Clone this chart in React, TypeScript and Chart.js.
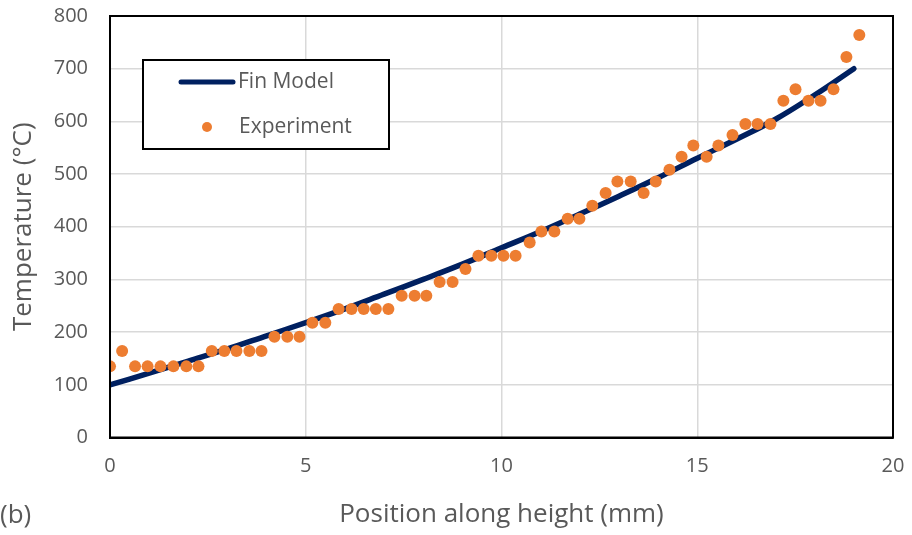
import React, { useEffect, useRef } from "react";
import { Chart, registerables } from "chart.js";

Chart.register(...registerables);

const modelX = [0, 1, 2, 3, 4, 5, 6, 7, 8, 9, 10, 11, 12, 13, 14, 15, 16, 17, 18, 19];
const modelY = [100, 122, 145, 168, 193, 218, 244, 272, 300, 329, 360, 391, 424, 458, 493, 530, 566, 604, 650, 700];

const expX = [
  0, 0.31, 0.64, 0.96, 1.29, 1.62, 1.95, 2.26, 2.6, 2.92, 3.23, 3.56, 3.87, 4.2, 4.53, 4.84, 5.17, 5.5, 5.84, 6.17,
  6.48, 6.79, 7.11, 7.45, 7.78, 8.08, 8.42, 8.75, 9.08, 9.41, 9.74, 10.05, 10.36, 10.72, 11.02, 11.35, 11.69, 11.99,
  12.32, 12.66, 12.96, 13.3, 13.63, 13.94, 14.29, 14.6, 14.9, 15.24, 15.54, 15.9, 16.23, 16.54, 16.87, 17.2, 17.51,
  17.84, 18.15, 18.48, 18.81, 19.14,
];
const expY = [
  135, 164, 135, 135, 135, 135, 135, 135, 164, 164, 164, 164, 164, 191, 191, 191, 218, 218, 244, 244,
  244, 244, 244, 269, 269, 269, 295, 295, 320, 345, 345, 345, 345, 370, 391, 391, 415, 415,
  440, 464, 486, 486, 464, 486, 508, 533, 554, 533, 554, 574, 595, 595, 595, 639, 661,
  639, 639, 661, 722, 764,
];

const seriesNames = ["Fin Model", "Experiment"];
const xTitle = "Position along height (mm)";
const yTitle = "Temperature (°C)";
const panelLabel = "(b)";

const FONT = "'Open Sans', sans-serif";
const TEXT = "#595959";
const NAVY = "#002060";
const ORANGE = "#ED7D31";

const framePlugin = {
  id: "frame",
  afterDatasetsDraw(chart: any) {
    const { ctx, chartArea } = chart;
    ctx.save();
    ctx.strokeStyle = "#000";
    ctx.lineWidth = 2;
    ctx.strokeRect(chartArea.left, chartArea.top, chartArea.right - chartArea.left, chartArea.bottom - chartArea.top);

    const bx = 143, by = 60, bw = 246, bh = 89;
    ctx.fillStyle = "#fff";
    ctx.fillRect(bx, by, bw, bh);
    ctx.strokeStyle = "#000";
    ctx.lineWidth = 2;
    ctx.strokeRect(bx, by, bw, bh);

    ctx.strokeStyle = NAVY;
    ctx.lineWidth = 5;
    ctx.lineCap = "round";
    ctx.beginPath();
    ctx.moveTo(181, 82);
    ctx.lineTo(233, 82);
    ctx.stroke();

    ctx.fillStyle = ORANGE;
    ctx.beginPath();
    ctx.arc(207, 127, 5, 0, Math.PI * 2);
    ctx.fill();

    ctx.fillStyle = TEXT;
    ctx.font = `21px ${FONT}`;
    ctx.textBaseline = "middle";
    ctx.textAlign = "left";
    ctx.fillText(seriesNames[0], 238, 82);
    ctx.fillText(seriesNames[1], 239, 127);

    ctx.font = `26px ${FONT}`;
    ctx.fillText(panelLabel, 0, 516);
    ctx.restore();
  },
};

export default function App() {
  const ref = useRef<HTMLCanvasElement | null>(null);

  useEffect(() => {
    if (!ref.current) return;
    const chart = new Chart(ref.current, {
      type: "scatter",
      data: {
        datasets: [
          {
            type: "line",
            label: seriesNames[0],
            data: modelX.map((x, i) => ({ x, y: modelY[i] })),
            borderColor: NAVY,
            backgroundColor: NAVY,
            borderWidth: 5.5,
            borderCapStyle: "round",
            pointRadius: 0,
            tension: 0.4,
            fill: false,
            order: 1,
          } as any,
          {
            label: seriesNames[1],
            data: expX.map((x, i) => ({ x, y: expY[i] })),
            backgroundColor: ORANGE,
            borderColor: ORANGE,
            borderWidth: 0,
            pointRadius: 6,
            showLine: false,
            order: 0,
          },
        ],
      },
      options: {
        animation: false,
        responsive: true,
        maintainAspectRatio: false,
        layout: { padding: { top: 16, right: 19, left: 0, bottom: 0 } },
        plugins: { legend: { display: false }, tooltip: { enabled: false } },
        scales: {
          x: {
            type: "linear",
            min: 0,
            max: 20,
            ticks: { stepSize: 5, padding: 17, color: TEXT, font: { family: FONT, size: 20 } },
            grid: { color: "#D9D9D9", lineWidth: 1.5, drawTicks: false },
            border: { display: true, color: "#000", width: 2 },
            title: {
              display: true,
              text: xTitle,
              color: TEXT,
              font: { family: FONT, size: 26 },
              padding: { top: 0, bottom: 5 },
            },
            afterFit: (scale: any) => {
              scale.height = 97.5;
              scale.paddingLeft = 0;
              scale.paddingRight = 0;
            },
          },
          y: {
            type: "linear",
            min: 0,
            max: 800,
            ticks: { stepSize: 100, padding: 22, color: TEXT, font: { family: FONT, size: 20 } },
            grid: { color: "#D9D9D9", lineWidth: 1.5, drawTicks: false },
            border: { display: true, color: "#000", width: 2 },
            title: {
              display: true,
              text: yTitle,
              color: TEXT,
              font: { family: FONT, size: 26 },
              padding: { top: 8, bottom: 0 },
            },
            afterFit: (scale: any) => {
              scale.width = 110;
              scale.paddingTop = 0;
              scale.paddingBottom = 0;
            },
          },
        },
      },
      plugins: [framePlugin],
    });
    return () => chart.destroy();
  }, []);

  return (
    <div style={{ position: "fixed", left: 0, top: 0, width: 912, height: 535, background: "#fff" }}>
      <canvas ref={ref} />
    </div>
  );
}
